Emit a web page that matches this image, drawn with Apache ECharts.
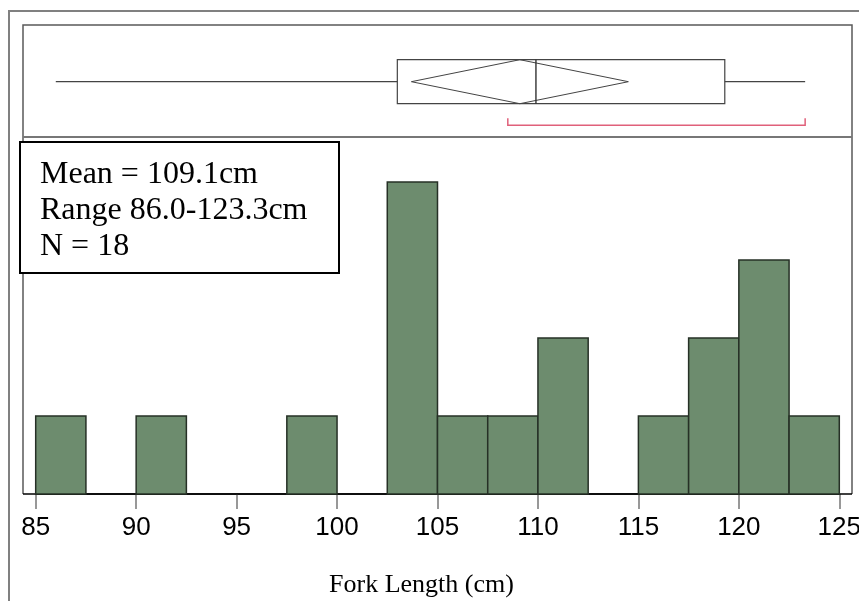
<!DOCTYPE html>
<html><head><meta charset="utf-8">
<script src="https://cdn.jsdelivr.net/npm/echarts@6.0.0/dist/echarts.min.js"></script>
<style>html,body{margin:0;padding:0;background:#fff}#c{width:859px;height:601px}</style>
</head><body><div id="c"></div>
<script>
// ---- data ----
const binStarts = [85, 87.5, 90, 92.5, 95, 97.5, 100, 102.5, 105, 107.5, 110, 112.5, 115, 117.5, 120, 122.5];
const binEnds   = [87.5, 90, 92.5, 95, 97.5, 100, 102.5, 105, 107.5, 110, 112.5, 115, 117.5, 120, 122.5, 125];
const binCounts = [1, 0, 1, 0, 0, 1, 0, 4, 1, 1, 2, 0, 1, 2, 3, 1];
const xTicks = [85, 90, 95, 100, 105, 110, 115, 120, 125];
const boxFiveNum = [86.0, 103.0, 109.9, 119.3, 123.3];   // min, Q1, median, Q3, max
const meanDiamond = [103.7, 109.1, 114.5];              // CI low, mean, CI high
const shortestHalf = [108.5, 123.3];
const statLines = ['Mean = 109.1cm', 'Range 86.0-123.3cm', 'N = 18'];
const axisTitle = 'Fork Length (cm)';

// ---- chart ----
const chart = echarts.init(document.getElementById('c'), null, {renderer: 'canvas'});
const histData = binStarts.map((s, i) => [s, binEnds[i], binCounts[i]]).filter(d => d[2] > 0);
const boxData = [[...boxFiveNum, ...meanDiamond, ...shortestHalf]];

const GL = 35.7, GW = 803.6;
const option = {
  backgroundColor: '#fff',
  animation: false,
  grid: [
    {left: GL, width: GW, top: 25, height: 112, outerBoundsMode: 'none', containLabel: false},
    {left: GL, width: GW, top: 137, height: 357, outerBoundsMode: 'none', containLabel: false}
  ],
  xAxis: [
    {gridIndex: 0, type: 'value', min: xTicks[0], max: xTicks[xTicks.length - 1], show: false},
    {gridIndex: 1, type: 'value', min: xTicks[0], max: xTicks[xTicks.length - 1], interval: 5,
      axisLine: {show: true, lineStyle: {color: '#000', width: 1.5}},
      axisTick: {show: true, length: 15, lineStyle: {color: '#777', width: 1.5}},
      axisLabel: {fontSize: 26, fontFamily: 'Liberation Sans, Arial', color: '#000', margin: 21,
        showMinLabel: true, showMaxLabel: true, hideOverlap: false, formatter: v => String(v)},
      splitLine: {show: false}}
  ],
  yAxis: [
    {gridIndex: 0, type: 'value', min: 0, max: 112, inverse: true, show: false},
    {gridIndex: 1, type: 'value', min: 0, max: 4.577, show: false}
  ],
  series: [
    {
      type: 'custom', xAxisIndex: 1, yAxisIndex: 1, data: histData, z: 5,
      renderItem(params, api) {
        const p0 = api.coord([api.value(0), api.value(2)]);
        const p1 = api.coord([api.value(1), 0]);
        return {type: 'rect', shape: {x: p0[0], y: p0[1], width: p1[0] - p0[0], height: p1[1] - p0[1]},
          style: {fill: '#6d8c6e', stroke: '#263026', lineWidth: 1.5}};
      }
    },
    {
      type: 'custom', xAxisIndex: 0, yAxisIndex: 0, data: boxData, z: 5,
      renderItem(params, api) {
        const v = i => api.value(i);
        const yMid = 56.7, yTop = 34.7, yBot = 78.7, yBr = 100.3, yBrT = 93.3;
        const c = (x, y) => api.coord([x, y]);
        const ln = (a, b, color, w) => ({type: 'line', shape: {x1: a[0], y1: a[1], x2: b[0], y2: b[1]},
          style: {stroke: color, lineWidth: w}});
        const dark = '#444';
        const boxL = c(v(1), yTop), boxR = c(v(3), yBot);
        const children = [
          ln(c(v(0), yMid), c(v(1), yMid), dark, 1.2),
          ln(c(v(3), yMid), c(v(4), yMid), dark, 1.2),
          {type: 'rect', shape: {x: boxL[0], y: boxL[1], width: boxR[0] - boxL[0], height: boxR[1] - boxL[1]},
            style: {fill: 'none', stroke: dark, lineWidth: 1.2}},
          {type: 'polygon', shape: {points: [c(v(5), yMid), c(v(6), yTop), c(v(7), yMid), c(v(6), yBot)]},
            style: {fill: 'none', stroke: dark, lineWidth: 1}},
          ln(c(v(2), yTop), c(v(2), yBot), '#333', 1.4),
          {type: 'polyline', shape: {points: [c(v(8), yBrT), c(v(8), yBr), c(v(9), yBr), c(v(9), yBrT)]},
            style: {fill: 'none', stroke: '#e0607a', lineWidth: 1.5}}
        ];
        return {type: 'group', children};
      }
    }
  ],
  graphic: [
    {type: 'polyline', shape: {points: [[9, 601], [9, 11], [859, 11]]}, style: {fill: 'none', stroke: '#808080', lineWidth: 2}, z: 1},
    {type: 'polyline', shape: {points: [[23, 494], [23, 25], [852, 25], [852, 494]]}, style: {fill: 'none', stroke: '#5a5a5a', lineWidth: 1.5}, z: 1},
    {type: 'line', shape: {x1: 23, y1: 137, x2: 852, y2: 137}, style: {stroke: '#777', lineWidth: 2}, z: 1},
    {type: 'line', shape: {x1: 23, y1: 494, x2: 852, y2: 494}, style: {stroke: '#000', lineWidth: 1.5}, z: 1},
    {type: 'rect', shape: {x: 20, y: 142, width: 319, height: 131}, style: {fill: '#fff', stroke: '#000', lineWidth: 2}, z: 50},
    {type: 'text', x: 40, y: 157, z: 51,
      style: {text: statLines.join('\n'), fontSize: 32, lineHeight: 36, fontFamily: 'Liberation Serif, Times New Roman, serif',
        fill: '#000', align: 'left', verticalAlign: 'top'}},
    {type: 'text', x: 421.5, y: 585, z: 51,
      style: {text: axisTitle, fontSize: 26, fontFamily: 'Liberation Serif, Times New Roman, serif', fill: '#000',
        align: 'center', verticalAlign: 'middle'}}
  ]
};
chart.setOption(option);
</script>
</body></html>
